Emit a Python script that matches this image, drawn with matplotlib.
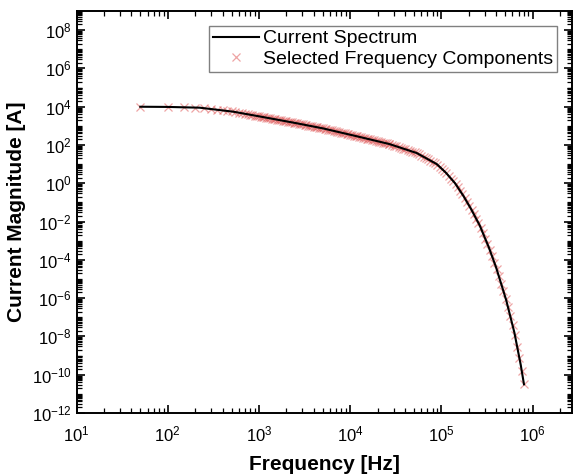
import numpy as np
import matplotlib
matplotlib.use("Agg")
import matplotlib.pyplot as plt
from matplotlib.ticker import LogLocator, NullFormatter

plt.rcParams['font.family'] = ['Liberation Sans', 'DejaVu Sans']
plt.rcParams['mathtext.default'] = 'regular'

# values, stored as log10(Hz) and log10(A)
spec_freq_log = [1.699, 2.00, 2.35, 2.72, 3.08, 3.41, 3.70, 4.07, 4.43, 4.73, 4.95,
                 5.05, 5.15, 5.24, 5.32, 5.42, 5.52, 5.60, 5.71, 5.80, 5.87, 5.905]
spec_mag_log = [4.00, 3.99, 3.95, 3.74, 3.43, 3.14, 2.87, 2.46, 2.05, 1.58, 1.00,
                0.55, 0.00, -0.65, -1.30, -2.20, -3.35, -4.40, -6.10, -7.80, -9.50, -10.50]

# selected components: low harmonics, dense band, then the roll-off
sel_freq_log = [
    1.699, 2.000, 2.176, 2.301, 2.398, 2.477, 2.544, 2.602, 2.653, 2.699,
    2.740, 2.778, 2.813, 2.845, 2.875, 2.903, 2.929, 2.954, 2.978, 3.000,
    3.02, 3.04, 3.06, 3.08, 3.10, 3.12, 3.14, 3.16, 3.18, 3.20,
    3.22, 3.24, 3.26, 3.28, 3.30, 3.32, 3.34, 3.36, 3.38, 3.40,
    3.42, 3.44, 3.46, 3.48, 3.50, 3.52, 3.54, 3.56, 3.58, 3.60,
    3.62, 3.64, 3.66, 3.68, 3.70, 3.72, 3.74, 3.76, 3.78, 3.80,
    3.82, 3.84, 3.86, 3.88, 3.90, 3.92, 3.94, 3.96, 3.98, 4.00,
    4.02, 4.04, 4.06, 4.08, 4.10, 4.12, 4.14, 4.16, 4.18, 4.20,
    4.22, 4.24, 4.26, 4.28, 4.30, 4.32, 4.34, 4.36, 4.38, 4.40,
    4.42,
    4.430, 4.455, 4.480, 4.505, 4.530, 4.555, 4.580, 4.605, 4.630, 4.655,
    4.680, 4.705, 4.730, 4.755, 4.780, 4.805, 4.830, 4.855, 4.880, 4.905,
    4.930, 4.955, 4.980, 5.005, 5.030, 5.055, 5.080, 5.105, 5.130, 5.155,
    5.180, 5.205, 5.230, 5.255, 5.280, 5.305, 5.330, 5.355, 5.380, 5.405,
    5.430, 5.455, 5.480, 5.505, 5.530, 5.555, 5.580, 5.605, 5.630, 5.655,
    5.680, 5.705, 5.730, 5.755, 5.780, 5.805, 5.830, 5.855, 5.880, 5.905,
]
sel_mag_log = [
    4.000, 3.990, 3.970, 3.956, 3.923, 3.878, 3.840, 3.807, 3.778, 3.752,
    3.723, 3.690, 3.660, 3.633, 3.607, 3.583, 3.561, 3.539, 3.519, 3.500,
    3.482, 3.464, 3.447, 3.430, 3.412, 3.395, 3.377, 3.360, 3.342, 3.325,
    3.307, 3.289, 3.272, 3.254, 3.237, 3.219, 3.202, 3.184, 3.166, 3.149,
    3.131, 3.112, 3.093, 3.075, 3.056, 3.038, 3.019, 3.000, 2.982, 2.963,
    2.944, 2.926, 2.907, 2.889, 2.870, 2.848, 2.826, 2.803, 2.781, 2.759,
    2.737, 2.714, 2.692, 2.670, 2.648, 2.626, 2.604, 2.581, 2.559, 2.537,
    2.515, 2.493, 2.471, 2.449, 2.426, 2.403, 2.380, 2.357, 2.335, 2.312,
    2.289, 2.266, 2.244, 2.221, 2.198, 2.175, 2.153, 2.130, 2.107, 2.084,
    2.061,
    2.050, 2.011, 1.972, 1.932, 1.893, 1.854, 1.815, 1.776, 1.737, 1.698,
    1.658, 1.619, 1.580, 1.514, 1.448, 1.382, 1.316, 1.250, 1.185, 1.119,
    1.053, 0.978, 0.865, 0.753, 0.640, 0.523, 0.385, 0.248, 0.110, -0.036,
    -0.217, -0.397, -0.578, -0.772, -0.975, -1.178, -1.390, -1.615, -1.840, -2.065,
    -2.315, -2.603, -2.890, -3.178, -3.481, -3.809, -4.138, -4.477, -4.864, -5.250,
    -5.636, -6.023, -6.478, -6.950, -7.422, -7.921, -8.529, -9.136, -9.786, -10.500,
]

spec_freq = 10.0 ** np.array(spec_freq_log)
spec_mag = 10.0 ** np.array(spec_mag_log)
sel_freq = 10.0 ** np.array(sel_freq_log)
sel_mag = 10.0 ** np.array(sel_mag_log)

fig = plt.figure(figsize=(5.74, 4.75), dpi=100)
ax = fig.add_axes([0.1333, 0.1305, 0.8632, 0.8463])

ax.plot(spec_freq, spec_mag, color='black', lw=1.5, label='Current Spectrum', zorder=3)
ax.plot(sel_freq, sel_mag, ls='none', marker='x', ms=5.5, mew=0.9,
        color='#e05a5a', alpha=0.55, label='Selected Frequency Components', zorder=2)

ax.set_xscale('log')
ax.set_yscale('log')
ax.set_xlim(10, 2.7e6)
ax.set_ylim(1e-12, 1e9)

ax.xaxis.set_major_locator(LogLocator(base=10, numticks=20))
ax.xaxis.set_minor_locator(LogLocator(base=10, subs=np.arange(2, 10), numticks=50))
ax.xaxis.set_minor_formatter(NullFormatter())
ax.yaxis.set_major_locator(LogLocator(base=100, numticks=20))
ax.yaxis.set_minor_locator(LogLocator(base=10, subs=np.arange(1, 10), numticks=100))
ax.yaxis.set_minor_formatter(NullFormatter())

ax.tick_params(which='both', direction='in', top=True, right=True, labelsize=12)
ax.tick_params(which='major', length=6, width=1.2)
ax.tick_params(which='minor', length=3.5, width=0.9)
ax.tick_params(axis='x', which='major', pad=8)
for s in ax.spines.values():
    s.set_linewidth(1.4)

ax.set_xlabel('Frequency [Hz]', fontsize=15, fontweight='bold', labelpad=8)
ax.set_ylabel('Current Magnitude [A]', fontsize=15, fontweight='bold', labelpad=4)

leg = ax.legend(loc='upper right', bbox_to_anchor=(0.970, 0.963), borderaxespad=0,
                fontsize=14, fancybox=False, framealpha=1, edgecolor='#808080',
                handlelength=2.4, handletextpad=0.2, labelspacing=0.15, borderpad=0.2)
leg.get_frame().set_linewidth(1.0)

fig.savefig('out.png', dpi=100)
